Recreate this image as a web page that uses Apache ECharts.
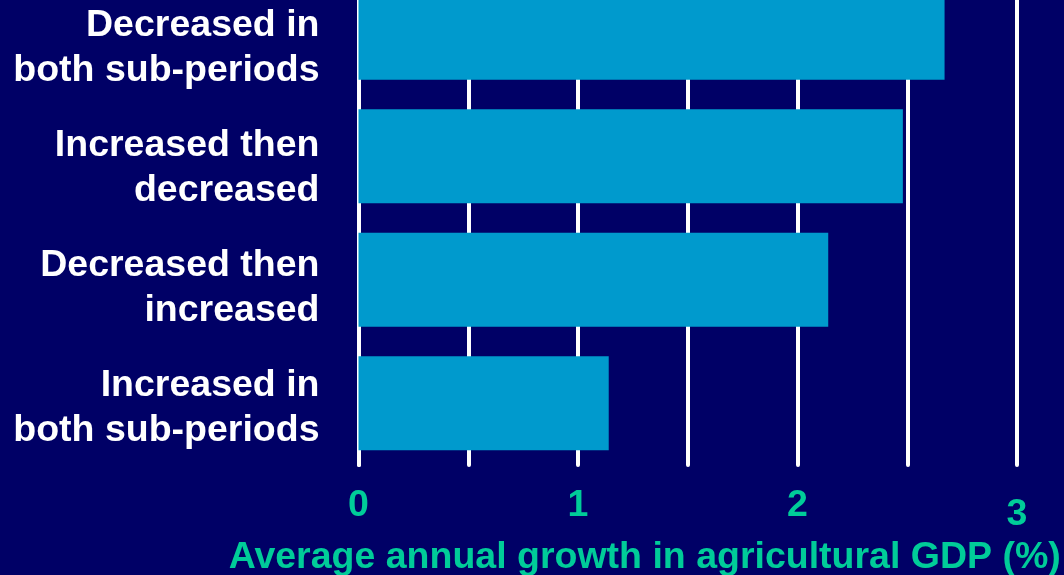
<!DOCTYPE html>
<html><head><meta charset="utf-8">
<script src="https://cdn.jsdelivr.net/npm/echarts@6/dist/echarts.min.js"></script>
<style>html,body{margin:0;padding:0;background:#000066;}#c{width:1064px;height:575px;}</style>
</head><body><div id="c"></div>
<script>
var categories = ['Decreased in\nboth sub-periods', 'Increased then\ndecreased', 'Decreased then\nincreased', 'Increased in\nboth sub-periods'];
var growthValues = [2.67, 2.48, 2.14, 1.14];
var tickLabels = ['0', '1', '2', '3'];
var axisTitle = 'Average annual growth in agricultural GDP (%)';

var FONT = "'Liberation Sans', Arial, sans-serif";
var FS = 37.5;
var chart = echarts.init(document.getElementById('c'));
chart.setOption({
  backgroundColor: '#000066',
  animation: false,
  grid: [
    {left: 358.5, right: 47, top: -29, bottom: 110, outerBoundsMode: 'none', containLabel: false},
    {left: 358.5, right: 47, top: -12, bottom: 107, outerBoundsMode: 'none', containLabel: false}
  ],
  xAxis: [{
    type: 'value', gridIndex: 0, min: 0, max: 3, interval: 0.5,
    axisLine: {show: false}, axisTick: {show: false},
    splitLine: {show: true, lineStyle: {color: '#ffffff', width: 4, cap: 'round'}},
    axisLabel: {
      margin: 22, fontFamily: FONT, fontWeight: 'bold', fontSize: FS, color: '#00cc99',
      formatter: function (v) {
        var i = tickLabels.indexOf(String(v));
        if (i < 0) return '';
        return i === tickLabels.length - 1 ? '{low|' + tickLabels[i] + '}' : tickLabels[i];
      },
      rich: {low: {fontFamily: FONT, fontWeight: 'bold', fontSize: FS, color: '#00cc99', padding: [9, 0, 0, 0]}}
    },
    name: axisTitle, nameLocation: 'middle', nameGap: 72,
    nameTextStyle: {fontFamily: FONT, fontWeight: 'bold', fontSize: FS, color: '#00cc99', padding: [0, 86, 0, 0]}
  }, {
    type: 'value', gridIndex: 1, min: 0, max: 3, show: false
  }],
  yAxis: [{
    type: 'category', gridIndex: 0, inverse: true, data: categories,
    axisLine: {show: true, lineStyle: {color: '#ffffff', width: 4}},
    axisTick: {show: false}, axisLabel: {show: false}, splitLine: {show: false}
  }, {
    type: 'category', gridIndex: 1, inverse: true, data: categories,
    axisLine: {show: false}, axisTick: {show: false}, splitLine: {show: false},
    axisLabel: {margin: 39, fontFamily: FONT, fontWeight: 'bold', fontSize: FS, lineHeight: 45.5, color: '#ffffff', align: 'right'}
  }],
  series: [{
    type: 'bar', xAxisIndex: 0, yAxisIndex: 0, data: growthValues,
    barWidth: 94, itemStyle: {color: '#009ACD'}, z: 3
  }]
});
</script></body></html>
